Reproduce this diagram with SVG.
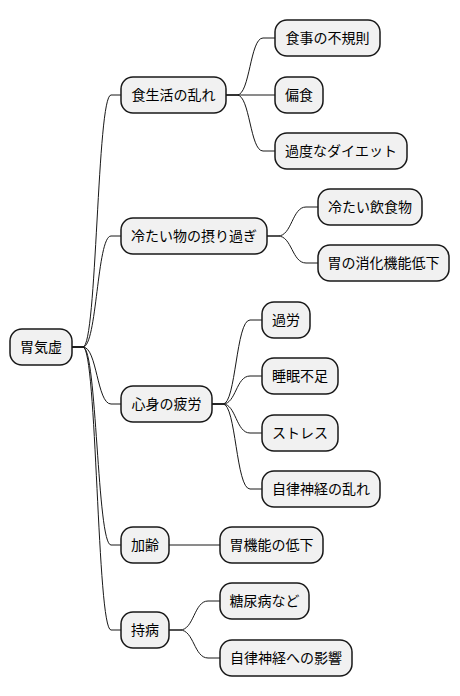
<svg xmlns="http://www.w3.org/2000/svg" width="460" height="696" viewBox="0 0 460 696">
<style>
.n rect{fill:#F1F1F1;stroke:#181818;stroke-width:1.5}
.n text{font-family:"Noto Sans CJK JP","Noto Sans CJK SC",sans-serif;font-size:14px;fill:#000000;text-anchor:middle}
#links path{fill:none;stroke:#181818;stroke-width:1}
</style>
<rect width="460" height="696" fill="#FFFFFF"/>
<g id="links">
<path d="M72,347 L83,347 C97,347 97,95 111,95 L121,95"/>
<path d="M72,347 L83,347 C97,347 97,236 111,236 L121,236"/>
<path d="M72,347 L83,347 C97,347 97,404 111,404 L121,404"/>
<path d="M72,347 L83,347 C97,347 97,545 111,545 L121,545"/>
<path d="M72,347 L83,347 C97,347 97,630 111,630 L121,630"/>
<path d="M226,95 L237,95 C250,95 250,38 263,38 L275,38"/>
<path d="M226,95 L275,95"/>
<path d="M226,95 L237,95 C250,95 250,151 263,151 L275,151"/>
<path d="M267,236 L278,236 C292,236 292,207 306,207 L318,207"/>
<path d="M267,236 L278,236 C292,236 292,263 306,263 L318,263"/>
<path d="M212,404 L223,404 C236,404 236,320 250,320 L262,320"/>
<path d="M212,404 L223,404 C236,404 236,376 250,376 L262,376"/>
<path d="M212,404 L223,404 C236,404 236,433 250,433 L262,433"/>
<path d="M212,404 L223,404 C236,404 236,489 250,489 L262,489"/>
<path d="M169,545 L220,545"/>
<path d="M169,630 L180,630 C194,630 194,601 208,601 L220,601"/>
<path d="M169,630 L180,630 C194,630 194,658 208,658 L220,658"/>
</g>
<g id="root" class="n"><rect x="10" y="329" width="62" height="36" rx="12"/><text x="41" y="352">胃気虚</text></g>
<g id="n1" class="n"><rect x="121" y="77" width="105" height="36" rx="12"/><text x="173.5" y="100">食生活の乱れ</text></g>
<g id="n2" class="n"><rect x="121" y="218" width="146" height="36" rx="12"/><text x="194" y="241">冷たい物の摂り過ぎ</text></g>
<g id="n3" class="n"><rect x="121" y="386" width="91" height="36" rx="12"/><text x="166.5" y="409">心身の疲労</text></g>
<g id="n4" class="n"><rect x="121" y="527" width="48" height="36" rx="12"/><text x="145" y="550">加齢</text></g>
<g id="n5" class="n"><rect x="121" y="612" width="48" height="36" rx="12"/><text x="145" y="635">持病</text></g>
<g id="n1a" class="n"><rect x="275" y="20" width="105" height="36" rx="12"/><text x="327.5" y="43">食事の不規則</text></g>
<g id="n1b" class="n"><rect x="275" y="77" width="48" height="36" rx="12"/><text x="299" y="100">偏食</text></g>
<g id="n1c" class="n"><rect x="275" y="133" width="132" height="36" rx="12"/><text x="341" y="156">過度なダイエット</text></g>
<g id="n2a" class="n"><rect x="318" y="189" width="104" height="36" rx="12"/><text x="370" y="212">冷たい飲食物</text></g>
<g id="n2b" class="n"><rect x="318" y="245" width="131" height="36" rx="12"/><text x="383.5" y="268">胃の消化機能低下</text></g>
<g id="n3a" class="n"><rect x="262" y="302" width="48" height="36" rx="12"/><text x="286" y="325">過労</text></g>
<g id="n3b" class="n"><rect x="262" y="358" width="76" height="36" rx="12"/><text x="300" y="381">睡眠不足</text></g>
<g id="n3c" class="n"><rect x="262" y="415" width="76" height="36" rx="12"/><text x="300" y="438">ストレス</text></g>
<g id="n3d" class="n"><rect x="262" y="471" width="118" height="36" rx="12"/><text x="321" y="494">自律神経の乱れ</text></g>
<g id="n4a" class="n"><rect x="220" y="527" width="103" height="36" rx="12"/><text x="271.5" y="550">胃機能の低下</text></g>
<g id="n5a" class="n"><rect x="220" y="583" width="89" height="36" rx="12"/><text x="264.5" y="606">糖尿病など</text></g>
<g id="n5b" class="n"><rect x="220" y="640" width="132" height="36" rx="12"/><text x="286" y="663">自律神経への影響</text></g>
</svg>
